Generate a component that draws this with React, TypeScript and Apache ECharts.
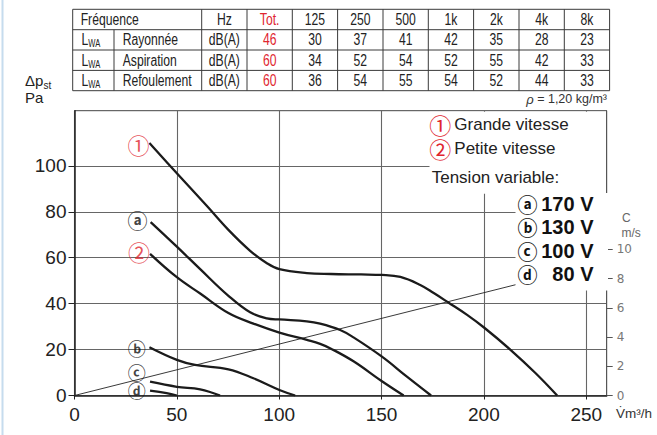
import React, { useEffect, useRef } from 'react';
import * as echarts from 'echarts';

// ---- Table data ----
const tableHeader = ['Fréquence', 'Hz', 'Tot.', '125', '250', '500', '1k', '2k', '4k', '8k'];
const rowLabels = ['Rayonnée', 'Aspiration', 'Refoulement'];
const rowUnit = 'dB(A)';
const totals = [46, 60, 60];
const bandValues = [
  [30, 37, 41, 42, 35, 28, 23],
  [34, 52, 54, 52, 55, 42, 33],
  [36, 54, 55, 54, 52, 44, 33],
];

// ---- Curves: [flow m3/h, Δpst Pa] ----
const curve1 = [[36.6, 109.9], [50, 96.8], [64.6, 82.6], [75.2, 72.1], [85.8, 63.0], [94, 57.6], [100.1, 55.0], [113.5, 53.3], [125.3, 52.9], [140, 52.7], [150.2, 52.5], [159.2, 51.6], [168.9, 48.1], [175.5, 44.6], [182.8, 40.4], [191.8, 35.1], [200.2, 29.5], [213, 19.9], [225.3, 9.7], [235.8, 0]];
const curveA = [[37.2, 75.5], [50, 64.8], [61.4, 55.0], [75.2, 43.4], [85.8, 36.2], [94, 33.6], [100.1, 33.1], [113.5, 32.3], [120, 31.3], [129.8, 28.5], [136.3, 25.3], [150.2, 16.9], [162.4, 8.2], [174.2, 0]];
const curve2 = [[36.9, 61.7], [50, 51.5], [61.4, 44.4], [75.2, 35.9], [87.4, 31.3], [100.1, 27.4], [113.5, 24.2], [120, 22.5], [125.3, 20.4], [136.3, 14.9], [150.2, 6.2], [160.8, 0]];
const curveB = [[36.6, 21], [50, 15.5], [58.9, 13.3], [75.2, 11.4], [87.4, 7.5], [100.1, 2.4], [107.8, 0]];
const curveC = [[36.9, 6.0], [50, 3.8], [61.4, 2.7], [71.1, 0]];
const curveD = [[36.9, 2.1], [45, 1.0], [50, 0]];
// velocity C (m/s) vs flow
const velocityLine = [[0, 0], [260, 9.15]];

const curveMarks = ['①', 'ⓐ', '②', 'ⓑ', 'ⓒ', 'ⓓ'];
const xLabels = [0, 50, 100, 150, 200, 250];
const yLabels = [0, 20, 40, 60, 80, 100];
const cLabels = [0, 2, 4, 6, 8, 10];
const speedLegend = [['①', 'Grande vitesse'], ['②', 'Petite vitesse']];
const tensionLegend = [['ⓐ', '170 V'], ['ⓑ', '130 V'], ['ⓒ', '100 V'], ['ⓓ', '80 V']];

const RED = '#e0262f';
const SANS = 'Liberation Sans, Arial, Helvetica, sans-serif';
const CJK = '"Noto Sans CJK JP", "DejaVu Sans", sans-serif';

function T(x: number, y: number, text: string, o: any = {}) {
  const align = o.align ?? 'left';
  return {
    type: 'text',
    x,
    y,
    z: 20,
    scaleX: o.scaleX ?? 1,
    style: {
      text,
      fill: o.fill ?? '#222',
      fontSize: o.size ?? 16,
      fontFamily: o.family ?? SANS,
      fontWeight: o.weight ?? 'normal',
      fontStyle: o.style ?? 'normal',
      align,
      textAlign: align,
      verticalAlign: 'middle',
      textVerticalAlign: 'middle',
      rich: o.rich,
    },
  };
}

function L(x1: number, y1: number, x2: number, y2: number, color = '#3a3a3a', w = 1) {
  return { type: 'line', z: 20, shape: { x1, y1, x2, y2 }, style: { stroke: color, lineWidth: w } };
}

function buildOption() {
  const colX = [72.7, 114, 201.7, 247, 292.3, 337.6, 383, 428.3, 473.6, 519, 564.3, 609.6];
  const rowY = [9.3, 29.7, 50, 70.4, 90.7];
  const SX = 0.76;
  const g: any[] = [];

  // page left frame
  g.push(L(2.5, 0, 2.5, 435, '#c6dcee', 2));

  // table lines
  rowY.forEach((y) => g.push(L(colX[0], y, colX[colX.length - 1], y)));
  colX.forEach((x, i) => g.push(L(x, i === 1 ? rowY[1] : rowY[0], x, rowY[4])));
  const cx = (i: number) => (colX[i] + colX[i + 1]) / 2;
  const cy = (r: number) => (rowY[r] + rowY[r + 1]) / 2;
  g.push(T(80.7, cy(0), tableHeader[0], { scaleX: SX }));
  for (let k = 1; k < tableHeader.length; k++) {
    g.push(T(cx(k + 1), cy(0), tableHeader[k], { scaleX: SX, align: 'center', fill: k === 2 ? RED : '#222' }));
  }
  rowLabels.forEach((lab, r) => {
    const y = cy(r + 1);
    g.push(T(81.5, y, 'L', { scaleX: SX }));
    g.push(T(88.3, y + 4, 'WA', { scaleX: SX, size: 10 }));
    g.push(T(122.7, y, lab, { scaleX: SX }));
    g.push(T(cx(2), y, rowUnit, { scaleX: SX, align: 'center' }));
    g.push(T(cx(3), y, String(totals[r]), { scaleX: SX, align: 'center', fill: RED }));
    bandValues[r].forEach((v, j) => g.push(T(cx(4 + j), y, String(v), { scaleX: SX, align: 'center' })));
  });
  g.push(T(607, 99, '{i|ρ} = 1,20 kg/m³', { size: 12.5, align: 'right', fill: '#333', rich: { i: { fontStyle: 'italic', fontSize: 13, fontFamily: SANS, fill: '#333' } } }));

  // axis titles
  g.push(T(25, 80, 'Δp', { size: 15 }));
  g.push(T(43.5, 85.5, 'st', { size: 10 }));
  g.push(T(25, 97, 'Pa', { size: 15 }));
  g.push(T(622, 217.5, 'C', { size: 12, fill: '#666' }));
  g.push(T(621.5, 233, 'm/s', { size: 12, fill: '#666' }));
  g.push(T(616, 413, 'V\u0307m³/h', { size: 13.5, fill: '#333' }));

  // legend boxes (white)
  g.push({ type: 'rect', z: 10, shape: { x: 429.5, y: 111.8, width: 176.5, height: 82 }, style: { fill: '#fff' } });
  g.push({ type: 'rect', z: 10, shape: { x: 515.5, y: 193, width: 92.5, height: 97.5 }, style: { fill: '#fff' } });
  const sy = [124.3, 148.3];
  speedLegend.forEach(([m, t], i) => {
    g.push(T(440.3, sy[i], m, { family: CJK, size: 22, fill: RED, align: 'center' }));
    g.push(T(454.3, sy[i], t, { size: 17 }));
  });
  g.push(T(431.7, 177.7, 'Tension variable:', { size: 17 }));
  const ty = [204.3, 227, 251, 274];
  tensionLegend.forEach(([m, t], i) => {
    g.push(T(527.5, ty[i], m, { family: CJK, size: 20, weight: 'bold', align: 'center', fill: '#111' }));
    g.push(T(593.5, ty[i], t, { size: 20, weight: 'bold', align: 'right', fill: '#111' }));
  });

  const curves = [curve1, curveA, curve2, curveB, curveC, curveD];
  const markOffsets = [[-11, 1], [-13.2, -1.3], [-11, -2.3], [-12.6, 0.4], [-13.3, -9.8], [-13.3, -0.6]];
  const markColors = [RED, '#111', RED, '#111', '#111', '#111'];
  const markSizes = [22, 20, 22, 18, 18, 18];

  const axisLineStyle = { color: '#222', width: 1.5 };
  const gridLine = { color: '#666', width: 1.1 };

  const series: any[] = curves.map((c, i) => ({
    type: 'line',
    name: curveMarks[i],
    data: c,
    showSymbol: false,
    symbol: 'none',
    smooth: 0.4,
    lineStyle: { color: '#1b1b1b', width: 2.3 },
    z: 4,
    silent: true,
  }));
  series.push({
    type: 'line',
    name: 'C',
    yAxisIndex: 1,
    data: velocityLine,
    showSymbol: false,
    symbol: 'none',
    lineStyle: { color: '#222', width: 0.9 },
    z: 3,
    silent: true,
  });
  series.push({
    type: 'scatter',
    name: 'marks',
    symbolSize: 1,
    itemStyle: { color: 'rgba(0,0,0,0)' },
    z: 5,
    silent: true,
    data: curves.map((c, i) => ({
      value: c[0],
      label: {
        show: true,
        position: 'inside',
        formatter: curveMarks[i],
        offset: markOffsets[i],
        color: markColors[i],
        fontFamily: CJK,
        fontSize: markSizes[i],
        fontWeight: i === 0 || i === 2 ? 'normal' : 'bold',
      },
    })),
  });

  return {
    animation: false,
    backgroundColor: '#fff',
    textStyle: { fontFamily: SANS },
    grid: { left: 74.5, right: 50.3, top: 110.7, bottom: 39.5, show: true, borderColor: '#444', borderWidth: 1, containLabel: false, outerBoundsMode: 'none' },
    xAxis: {
      type: 'value',
      min: 0,
      max: 260,
      interval: 25,
      axisLine: { show: true, onZero: false, lineStyle: axisLineStyle },
      axisTick: { show: true, customValues: xLabels, length: 4, lineStyle: { color: '#222' } },
      axisLabel: { customValues: xLabels, fontSize: 19, color: '#222', margin: 9, fontFamily: SANS },
      splitLine: { show: true, lineStyle: gridLine },
    },
    yAxis: [
      {
        type: 'value',
        min: 0,
        max: 124,
        interval: 10,
        axisLine: { show: true, onZero: false, lineStyle: axisLineStyle },
        axisTick: { show: true, customValues: yLabels, length: 6, lineStyle: { color: '#222' } },
        axisLabel: { customValues: yLabels, fontSize: 19, color: '#222', margin: 8, fontFamily: SANS },
        splitLine: { show: true, lineStyle: gridLine },
      },
      {
        type: 'value',
        position: 'right',
        min: 0,
        max: 124 / 6.36,
        axisLine: { show: true, onZero: false, lineStyle: { color: '#555', width: 1 } },
        axisTick: { show: true, customValues: cLabels, length: 6, lineStyle: { color: '#555' } },
        axisLabel: { customValues: cLabels, fontSize: 12, color: '#777', margin: 10, fontFamily: 'DejaVu Sans, sans-serif' },
        splitLine: { show: false },
      },
    ],
    series,
    graphic: { elements: g },
  };
}

export default function App() {
  const ref = useRef<HTMLDivElement>(null);
  useEffect(() => {
    const chart = echarts.init(ref.current as HTMLDivElement, null, { renderer: 'svg' });
    chart.setOption(buildOption() as any);
    return () => chart.dispose();
  }, []);
  return <div ref={ref} style={{ position: 'absolute', left: 0, top: 0, width: 657, height: 435, background: '#fff' }} />;
}
